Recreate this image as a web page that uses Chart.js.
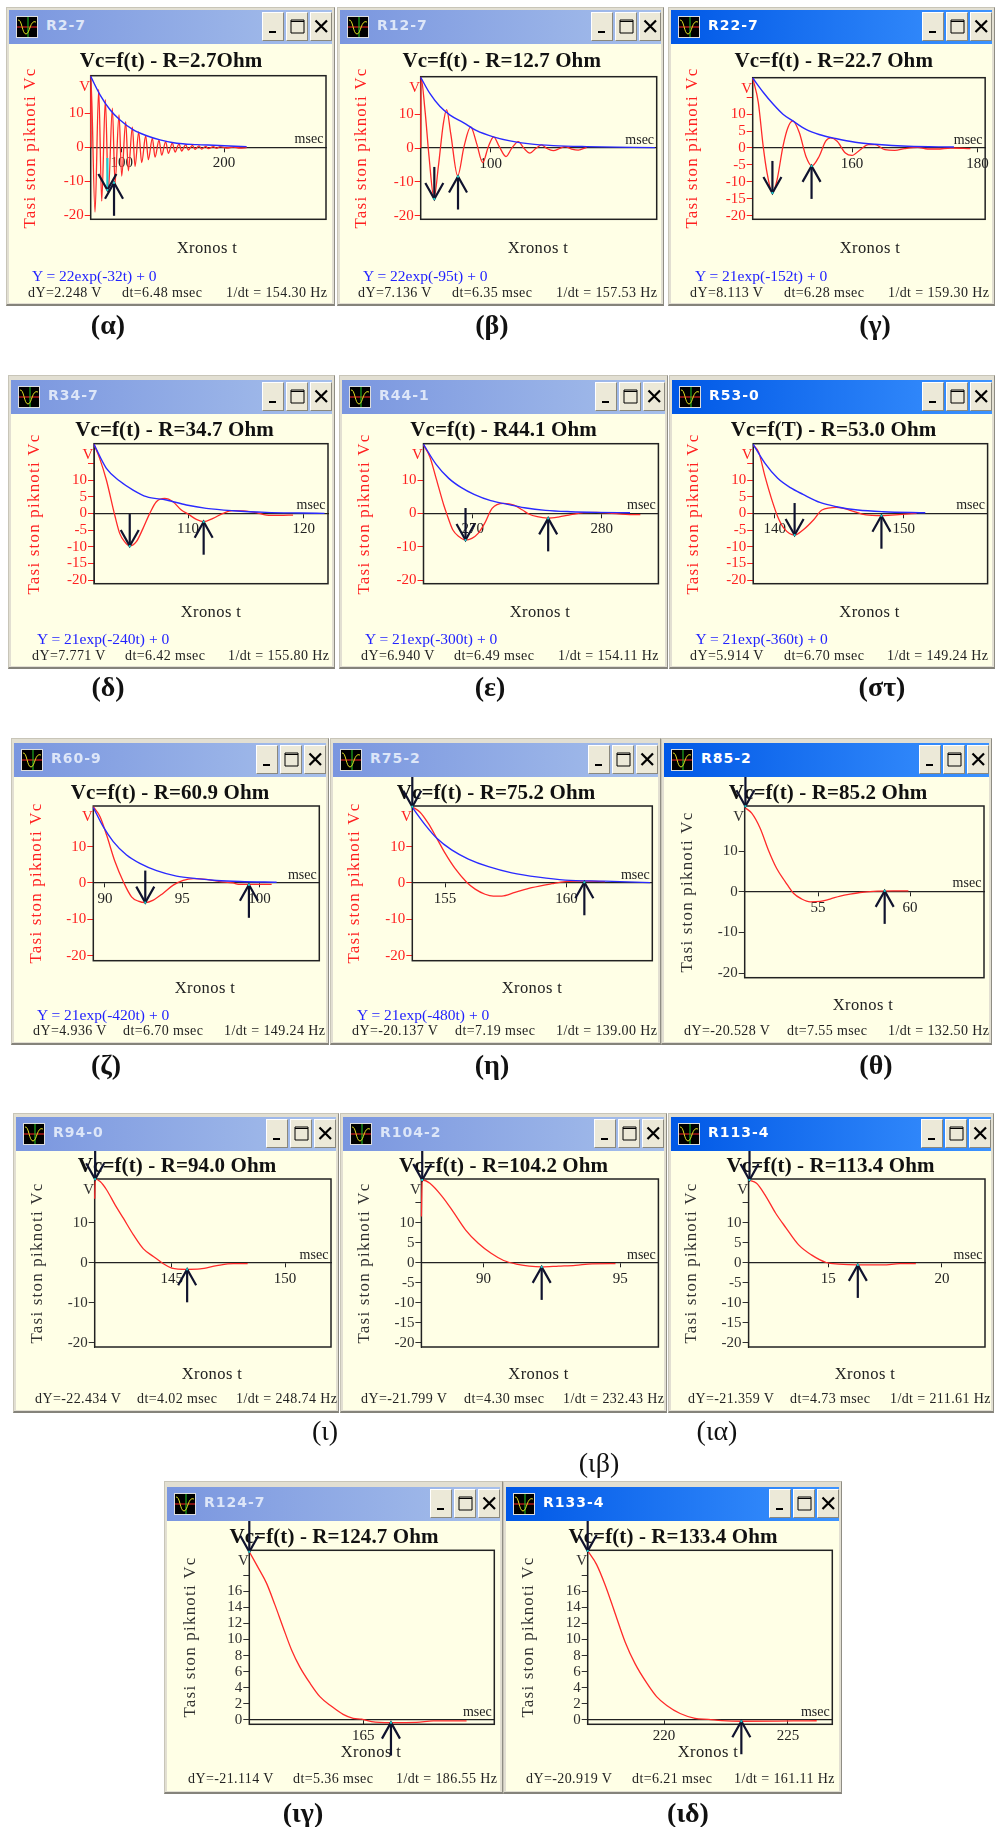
<!DOCTYPE html>
<html>
<head>
<meta charset="utf-8">
<title>Vc=f(t)</title>
<script src="https://cdn.jsdelivr.net/npm/chart.js@4"></script>
<style>
  html, body { margin: 0; padding: 0; background: #fff; }
  #page { position: relative; width: 996px; height: 1827px; overflow: hidden; font-family: "Liberation Serif", serif; filter: blur(0.35px); }
  .frame { position: absolute; box-sizing: border-box; background: #e2dfd2; border: 1px solid #c8c5b8; border-right-color: #8f8d84; border-bottom: 2px solid #85837b; }
  .client { position: absolute; background: #ffffe6; }
  .bar { position: absolute; height: 34px; }
  .bar.idle { background: linear-gradient(90deg, #7a96df, #a6bfeb); color: #dde6f8; }
  .bar.active { background: linear-gradient(90deg, #0058e6, #3c93ff); color: #fff; }
  .bar .name { position: absolute; left: 37px; top: 7px; font: bold 14px "DejaVu Sans", sans-serif; letter-spacing: 1px; }
  .bar svg.icon { position: absolute; left: 7px; top: 6px; }
  .btn { position: absolute; top: 2px; width: 22px; height: 29px; box-sizing: border-box; background: #ece9d8; border: 1px solid; border-color: #fff #8a887d #8a887d #fff; }
  .btn svg { position: absolute; left: 1px; top: 4px; }
  canvas { position: absolute; }
  .txt { position: absolute; white-space: nowrap; line-height: 1; }
  .fit { color: #2222ff; font-size: 15.5px; }
  .status { color: #222; font-size: 14px; letter-spacing: .4px; }
  .caption { color: #111; font-size: 28px; transform: translate(-50%, -50%); }
</style>
</head>
<body>
<div id="page"></div>
<script>
// red trace (time in msec, voltage in V)
const tR2_7 = [69.7,69.75,73.94,77.52,80.46,84.04,86.97,90.88,93.49,97.39,100,103.91,106.51,110.42,113.03,116.61,119.54,123.45,126.06,129.97,132.57,136.48,139.09,143,145.6,149.51,152.12,156.03,158.63,162.54,165.15,169.06,171.66,175.57,178.18,182.08,184.69,189.58,192.83,196.09,202.6,209.12,215.64,222.15];
const vR2_7 = [0,21,-19,17,-15.8,14,-13,11.5,-10.6,9.5,-8.4,7.5,-6.9,5.9,-5.6,4.5,-4.5,3.4,-3.6,2.7,-2.9,2.1,-2.3,1.7,-1.8,1.3,-1.4,1,-1.1,0.8,-0.8,0.6,-0.6,0.4,-0.5,0.3,-0.4,0.2,-0.3,0.2,-0.2,0.1,-0.2,-0.1];
const tR12_7 = [81.25,81.3,82.41,83.48,84.82,85.98,87.32,88.21,89.29,91.16,92.86,94.64,96.25,97.86,99.38,100.8,102.32,104.11,105.63,107.41,108.93,110.54,112.14,113.66,115,116.79,118.57,119.91,121.7,123.48,125.71];
const vR12_7 = [0,20.9,11,-2.5,-14.8,-5.5,7.2,11.3,4.3,-8.2,0.4,6.2,1.3,-4.3,0.4,3.3,0.4,-2.5,-0.1,1.9,-0.1,-1.5,-0.1,0.9,-0.1,-0.8,-0.1,0.4,-0.3,-0.6,0.2];
const tR22_7 = [144.19,145.08,145.86,146.49,147.33,148.06,149.01,149.79,150.58,151.62,152.67,153.61,154.76,155.81,156.6,157.64,158.95,160,161.31,162.62,163.66,165.24,166.81,168.38,170.47,172.04,173.61,175.71,178.85];
const vR22_7 = [20.7,13.5,0.5,-7.5,-13.3,-9.5,0.5,6,8,4.5,-2.5,-5.3,-2.5,2,3,2,-1.5,-2.2,-0.5,1,1,-0.5,-0.7,-0.2,0.2,-0.3,-0.3,0,-0.2];
const tR34_7 = [101.87,102.36,102.94,103.66,104.09,104.52,104.96,105.53,106.11,106.69,107.26,107.98,108.7,109.42,110,110.72,111.35,112.16,113.03,113.89,115.04,115.91,116.77,117.93,119.08];
const vR34_7 = [20.7,16.5,10,-0.5,-6,-8.5,-9.8,-8.5,-4.5,0,3.5,4.5,3.5,1,-0.2,-1.8,-2.5,-1.5,0,0.8,0.7,0.2,-0.5,-0.6,-0.5];
const tR44_1 = [266.18,266.67,267.16,267.75,267.97,268.46,268.95,269.44,269.93,270.42,270.92,271.5,272.39,273.2,273.86,274.35,275,275.82,276.63,277.61,278.6,279.58,280.56,281.86,283];
const vR44_1 = [20.5,17,10.5,2.5,0,-5,-7,-8,-7.5,-6,-3,1.5,3,2.5,1,-0.2,-1,-1.4,-1.1,-0.4,0.2,0.3,0.1,-0.3,-0.4];
const tR53_0 = [138.33,138.76,139.25,139.74,140.23,140.72,141.54,142.19,143,143.66,144.8,145.78,146.76,147.58,148.24,149.05,149.87,151];
const vR53_0 = [20.5,18.3,11,4.5,-1,-4.5,-6.5,-5,-2,1,1.8,1,-0.2,-0.6,-0.7,-0.5,-0.3,0];
const tR60_9 = [89.25,89.68,90.11,90.65,91.23,91.72,92.16,92.61,93.13,93.77,94.42,95.06,95.71,96.57,97.44,98.3,98.62,99.59,100.78];
const vR60_9 = [21,18.3,13.2,5.9,0,-3.8,-5,-5.4,-4.7,-2.8,-0.6,0.7,1.2,1,0.4,0,-0.4,-0.4,-0.4];
const tR75_2 = [153.65,153.97,154.31,154.66,155,155.41,155.89,156.24,156.65,156.99,157.34,157.88,158.57,159.4,159.95,160.63,161.59];
const vR75_2 = [21,19.5,16.4,12.3,8.2,4,0.2,-1.7,-3.1,-3.6,-3.6,-2.6,-1.3,-0.2,0.4,0.5,0.4];
const tR85_2 = [51.01,51.39,51.85,52.3,52.75,53.21,53.66,54.11,54.57,55.11,55.65,56.2,56.74,57.28,58.01,59.09,59.91];
const vR85_2 = [20.7,19.3,15.6,10.2,5.7,2.5,-0.4,-1.8,-2.5,-2.4,-1.8,-1.1,-0.6,-0.2,0.1,0.2,0.2];
const tR94_0 = [141.6,141.63,141.84,142.13,142.5,142.87,143.31,143.75,144.19,144.63,145,145.66,146.25,146.99,147.72,148.35];
const vR94_0 = [16,20.9,20.3,18.2,14.5,11.1,7,3.5,1.6,-0.2,-1.3,-1.6,-1.5,-0.7,-0.2,-0.2];
const tR104_2 = [87.73,87.76,88.04,88.5,88.89,89.35,89.81,90.28,90.74,91.2,91.67,92.13,92.75,93.36,93.98,94.83];
const vR104_2 = [11.6,20.7,19.9,16.5,12.8,8.2,4.9,2.4,0.6,-0.3,-0.8,-1,-0.8,-0.6,-0.25,-0.2];
const tR113_4 = [11.5,11.85,12.22,12.69,13.15,13.7,14.26,14.91,15.46,16.3,17.41,18.15,18.85];
const vR113_4 = [20.7,19.9,17,12.4,8.7,4.5,2,0.1,-0.3,-0.5,-0.5,-0.2,-0.2];
const tR124_7 = [160.69,161.03,161.34,161.66,161.97,162.29,162.6,162.98,163.36,163.8,164.24,164.62,164.94,165.32,166.01,167.02,167.65,168.91];
const vR124_7 = [20.9,18.9,17,14.3,11.5,8.7,6.6,4.6,2.9,1.7,0.7,0.2,0.1,-0.2,-0.33,-0.3,-0.12,-0.12];
const tR133_4 = [216.92,217.28,217.62,218.02,218.43,218.83,219.3,219.7,220.11,220.65,221.25,221.79,222.33,223.13,225.22,226.16];
const vR133_4 = [21,19.3,16.8,13.3,9.7,7,4.6,2.9,1.8,0.8,0.2,0.08,-0.08,-0.16,-0.12,-0.1];

// blue envelope, only the first eight windows have one
const envT2_7 = [69.7,78.83,88.6,98.37,111.4,124.43,137.46,153.75,173.29,189.58,222.15];
const envV2_7 = [20.8,15.4,11,8,5.1,3.4,2.2,1.2,0.8,0.6,0.2];
const envT12_7 = [81.25,83.75,86.43,89.11,92.68,96.25,100.71,105.18,110.54,116.79,125.71,144];
const envV12_7 = [20.8,16,12.2,9.7,7.5,5.1,3.3,2.1,1.2,0.7,0.4,0.1];
const envT22_7 = [144.19,145.86,147.43,149.01,150.58,152.67,154.76,157.38,160.52,163.66,168.9,176.23];
const envV22_7 = [20.7,16.5,13,10,8,5.5,4,2.8,1.7,1.1,0.5,0.3];
const envT34_7 = [101.87,102.94,104.09,105.25,106.4,108.13,109.86,111.58,113.89,116.77,119.65,121.8];
const envV34_7 = [20.7,13.5,9.7,7,5,4,2.5,1.5,0.8,0.3,0.1,0];
const envT44_1 = [266.18,267.16,268.14,269.12,270.1,271.4,272.7,274,275.65,277.6,279.6,282.2];
const envV44_1 = [20.7,14.7,10.5,7.7,5.7,3.8,2.7,1.7,0.9,0.5,0.3,0.2];
const envT53_0 = [138.33,139.25,140.23,141.21,142.19,143.5,144.8,146.44,148.4,151.67];
const envV53_0 = [20.7,15,10.5,7.7,5.7,3.3,2,1,0.5,0.2];
const envT60_9 = [89.25,89.89,90.54,91.4,92.26,93.34,94.63,95.93,97.22,98.73,101.1];
const envV60_9 = [20.8,15.5,11.4,7.7,5.4,3.4,1.9,1.2,0.7,0.4,0.2];
const envT75_2 = [153.65,154.18,154.66,155.27,155.96,156.79,157.75,158.85,159.95,161.59,163.45];
const envV75_2 = [20.8,16,12.3,9.1,6.6,4.5,2.8,1.6,0.8,0.5,0.1];

const traceT = [tR2_7,tR12_7,tR22_7,tR34_7,tR44_1,tR53_0,tR60_9,tR75_2,tR85_2,tR94_0,tR104_2,tR113_4,tR124_7,tR133_4];
const traceV = [vR2_7,vR12_7,vR22_7,vR34_7,vR44_1,vR53_0,vR60_9,vR75_2,vR85_2,vR94_0,vR104_2,vR113_4,vR124_7,vR133_4];
const envelopeT = [envT2_7,envT12_7,envT22_7,envT34_7,envT44_1,envT53_0,envT60_9,envT75_2];
const envelopeV = [envV2_7,envV12_7,envV22_7,envV34_7,envV44_1,envV53_0,envV60_9,envV75_2];

// axes
const xMins = [69.7,81.25,144.19,101.87,266.18,138.33,89.25,153.65,51.01,141.6,87.73,11.5,160.69,216.92];
const xMaxs = [299.7,144.5,181.2,122.1,284.4,156.5,103.86,163.54,64.02,152.03,96.4,21.89,169.96,226.79];
const yMins = [-21.1,-21,-21.1,-21.1,-21.1,-21.1,-21.4,-21.4,-21.15,-21,-21,-21,-0.54,-0.54];
const yMaxs = [21,21,20.8,20.9,20.9,20.9,21.2,21.2,21.07,20.95,20.95,20.95,21.08,21.08];
const xTicks = [[100,200],[100],[160,180],[110,120],[270,280],[140,150],[90,95,100],[155,160],[55,60],[145,150],[90,95],[15,20],[165],[220,225]];
const yTens = [10,0,-10,-20];
const yFives = [15,10,5,0,-5,-10,-15,-20];
const yTwos = [18,16,14,12,10,8,6,4,2,0];
const yTicks = [yTens,yTens,yFives,yFives,yTens,yFives,yTens,yTens,yTens,yTens,yFives,yFives,yTwos,yTwos];
const yUnlabelled = [15,18];

// cursor arrows
const downT = [86,84.9,147.33,104.96,269.44,141.54,92.61,153.65,51.05,141.62,87.76,11.54,160.69,216.92];
const downV = [-12.5,-15,-13.3,-9.8,-8,-6.5,-5.4,21,21,20.9,20.7,20.7,20.9,21];
const upT = [92.5,91.25,153.56,111.35,275.85,148.27,99.31,160.74,58.62,145.68,92.13,16.3,166.05,223.12];
const upV = [-10.4,-8.4,-5.3,-2.5,-1.5,-0.7,-0.5,0.2,0.2,-1.6,-1,-0.5,-0.33,-0.16];

// texts
const windowNames = ['R2-7','R12-7','R22-7','R34-7','R44-1','R53-0','R60-9','R75-2','R85-2','R94-0','R104-2','R113-4','R124-7','R133-4'];
const chartTitles = ['Vc=f(t) - R=2.7Ohm','Vc=f(t) - R=12.7 Ohm','Vc=f(t) - R=22.7 Ohm','Vc=f(t) - R=34.7 Ohm','Vc=f(t) - R44.1 Ohm','Vc=f(T) - R=53.0 Ohm','Vc=f(t) - R=60.9 Ohm','Vc=f(t) - R=75.2 Ohm','Vc=f(t) - R=85.2 Ohm','Vc=f(t) - R=94.0 Ohm','Vc=f(t) - R=104.2 Ohm','Vc=f(t) - R=113.4 Ohm','Vc=f(t) - R=124.7 Ohm','Vc=f(t) - R=133.4 Ohm'];
const fitLabels = ['Y = 22exp(-32t) + 0','Y = 22exp(-95t) + 0','Y = 21exp(-152t) + 0','Y = 21exp(-240t) + 0','Y = 21exp(-300t) + 0','Y = 21exp(-360t) + 0','Y = 21exp(-420t) + 0','Y = 21exp(-480t) + 0'];
const dYLabels = ['2.248','7.136','8.113','7.771','6.940','5.914','4.936','-20.137','-20.528','-22.434','-21.799','-21.359','-21.114','-20.919'];
const dtLabels = ['6.48','6.35','6.28','6.42','6.49','6.70','6.70','7.19','7.55','4.02','4.30','4.73','5.36','6.21'];
const rateLabels = ['154.30','157.53','159.30','155.80','154.11','149.24','149.24','139.00','132.50','248.74','232.43','211.61','186.55','161.11'];
const captions = ['(α)','(β)','(γ)','(δ)','(ε)','(στ)','(ζ)','(η)','(θ)','(ι)','(ιβ)','(ια)','(ιγ)','(ιδ)'];

// page layout in pixels, one row of windows per line
const rowOf = [0,0,0,1,1,1,2,2,2,3,3,3,4,4];
const rowFrameTop = [7,375,738,1113,1481];
const rowBarTop = [10,380,743,1117,1487];
const rowFrameBottom = [306,669,1045,1413,1794];
const rowFitY = [275,638,1014];
const rowStatusY = [293,656,1031,1399,1779];
const frameLeft = [6,337,668,8,339,669,11,330,661,13,340,668,164,503];
const frameRight = [335,664,995,335,668,995,329,661,992,339,667,994,503,842];
const plotLeft = [90.7,420.7,752.7,94,423.5,753.2,93.3,412.3,744.7,94.7,421.4,748.6,249.3,587.7];
const plotRight = [326,656.7,988,328,658.4,987.6,319.3,652.3,984,331,658.4,985,494.3,832.3];
const plotTop = [75.7,76.7,77.7,443.7,443.7,443.7,806,806,806,1179,1179,1179,1550.3,1550.3];
const plotBottom = [219.3,219.3,219.3,583.7,583.7,583.7,960.7,960.7,977.7,1347,1347,1347,1724.3,1724.3];
const titleX = [171,501.7,833.7,174.5,503.6,833.5,170,496,828,177,503.6,830.6,334,673];
const titleY = [62,62,62,430.7,430.7,430.7,794,794,794,1167,1167,1167,1538,1538];
const xNameX = [207,538,870,211,540,869.6,205,532,863,212,538.6,865,371,708];
const xNameY = [249,249,249,613,613,613,989,989,1006,1375,1375,1375,1753,1753];
const yNameX = [31,362,693,35,364.5,694,37,355,688,38,365,692,191,529];
const yNameY = [148,148,148,514,514,514,883,883,892,1263,1263,1263,1637,1637];
const fitX = [32,363,695,37,365,695.5,37,357];
const dYX = [28,358,690,32,361,690,33,352,684,35,361,688,188,526];
const dtX = [122,452,784,125,454,784,123,455,787,137,464,790,293,632];
const rateX = [226,556,888,228,558,887,224,556,888,236,563,890,396,734];
const captionX = [108,492,875,108,490,882,106,492,876,325,599,717,303,688];
const captionY = [325,325,325,687,687,687,1065,1065,1065,1431,1463,1431,1813,1813];
const captionBold = [1,1,1,1,1,1,1,1,1,0,0,0,1,1];
const activeWindow = [0,0,1,0,0,1,0,0,1,0,0,1,0,1];
const redLabels = [1,1,1,1,1,1,1,1,0,0,0,0,0,0];
const cyanDownTail = [1,0,0,0,0,0,0,0,0,0,0,0,0,0];

const page = document.getElementById('page');

function addDiv(cls, left, top, width, height, parent) {
    const el = document.createElement('div');
    el.className = cls;
    el.style.left = left + 'px';
    el.style.top = top + 'px';
    if (width != null) el.style.width = width + 'px';
    if (height != null) el.style.height = height + 'px';
    (parent || page).appendChild(el);
    return el;
}

function addText(cls, left, top, text) {
    const el = addDiv('txt ' + cls, left, top);
    el.textContent = text;
    return el;
}

const iconSvg = `<svg class="icon" width="22" height="22"><rect x=".5" y=".5" width="21" height="21" fill="#000" stroke="#ddd"/><path d="M1 11H21" stroke="#f22"/><path d="M12 1V21" stroke="#2c2"/><path d="M2 4C6 3 6 18 10 18S14 3 20 6" stroke="#dd2" fill="none"/></svg>`;
const minSvg = `<svg width="18" height="18"><path d="M5 15H12" stroke="#000" stroke-width="2"/></svg>`;
const maxSvg = `<svg width="18" height="18"><path d="M3 3H16V16H3Z M3 4.5H16" stroke="#000" fill="none"/></svg>`;
const closeSvg = `<svg width="18" height="18"><path d="M3.5 3.5L15 15M15 3.5L3.5 15" stroke="#000" stroke-width="2.2"/></svg>`;

function addWindowChrome(i) {
    const row = rowOf[i];
    const l = frameLeft[i], r = frameRight[i];
    addDiv('frame', l, rowFrameTop[row], r - l, rowFrameBottom[row] - rowFrameTop[row]);
    const barW = r - l - 6;
    const barTop = rowBarTop[row];
    addDiv('client', l + 3, barTop, barW, rowFrameBottom[row] - 3 - barTop);
    const bar = addDiv('bar ' + (activeWindow[i] ? 'active' : 'idle'), l + 3, barTop, barW);
    bar.innerHTML = iconSvg + `<span class="name">${windowNames[i]}</span>`;
    [minSvg, maxSvg, closeSvg].forEach((svg, k) => {
        const btn = addDiv('btn', barW - 24 * (3 - k) + 2, 2, null, null, bar);
        btn.innerHTML = svg;
    });
}

function drawText(ctx, text, x, y, font, color, rotate, spacing) {
    ctx.save();
    ctx.translate(x, y);
    if (rotate) ctx.rotate(-Math.PI / 2);
    ctx.font = font;
    ctx.fillStyle = color;
    ctx.textAlign = 'center';
    ctx.textBaseline = 'middle';
    ctx.letterSpacing = (spacing || 0) + 'px';
    ctx.fillText(text, 0, 0);
    ctx.restore();
}

function drawArrow(ctx, x, y, dir, len, tailColor) {
    ctx.save();
    ctx.lineWidth = 2.2;
    ctx.strokeStyle = tailColor || '#10132e';
    ctx.beginPath();
    ctx.moveTo(x, y);
    ctx.lineTo(x, y + dir * len);
    ctx.stroke();
    ctx.strokeStyle = '#10132e';
    ctx.beginPath();
    ctx.moveTo(x - 9, y + dir * 16);
    ctx.lineTo(x, y);
    ctx.lineTo(x + 9, y + dir * 16);
    ctx.stroke();
    ctx.fillStyle = '#20d0d0';
    ctx.fillRect(x - 1, y - 1, 2, 2);
    ctx.restore();
}

function makeChart(i) {
    const row = rowOf[i];
    const canvasLeft = frameLeft[i] + 3;
    const canvasTop = rowBarTop[row] + 34;
    const canvasW = frameRight[i] - frameLeft[i] - 6;
    const canvasH = rowFrameBottom[row] - 3 - canvasTop;
    const canvas = document.createElement('canvas');
    canvas.width = canvasW;
    canvas.height = canvasH;
    canvas.style.left = canvasLeft + 'px';
    canvas.style.top = canvasTop + 'px';
    page.appendChild(canvas);

    const labelColor = redLabels[i] ? '#ff2020' : '#303030';
    const datasets = [];
    if (envelopeT[i]) {
        datasets.push({
            data: envelopeT[i].map((t, k) => ({ x: t, y: envelopeV[i][k] })),
            borderColor: '#2a2aff', borderWidth: 1.4, pointRadius: 0, clip: 2,
            cubicInterpolationMode: 'monotone'
        });
    }
    datasets.push({
        data: traceT[i].map((t, k) => ({ x: t, y: traceV[i][k] })),
        borderColor: '#ff2a2a', borderWidth: 1.3, pointRadius: 0, clip: 2,
        cubicInterpolationMode: 'monotone'
    });

    const windowText = {
        id: 'windowText',
        beforeDatasetsDraw(chart) {
            const ctx = chart.ctx;
            const area = chart.chartArea;
            drawText(ctx, chartTitles[i], titleX[i] - canvasLeft, titleY[i] - canvasTop, 'bold 21px "Liberation Serif"', '#111', false, 0.1);
            drawText(ctx, 'Xronos t', xNameX[i] - canvasLeft, xNameY[i] - canvasTop, '16.5px "Liberation Serif"', '#222', false, 0.4);
            drawText(ctx, 'Tasi ston piknoti Vc', yNameX[i] - canvasLeft, yNameY[i] - canvasTop, '17px "Liberation Serif"', labelColor, true, 1.2);
            // plot frame
            ctx.save();
            ctx.strokeStyle = '#222';
            ctx.lineWidth = 1.5;
            ctx.strokeRect(area.left, area.top, area.width, area.height);
            ctx.restore();
            const zero = chart.scales.y.getPixelForValue(0);
            drawText(ctx, 'msec', area.right - 17, zero - 8, '14px "Liberation Serif"', '#222', false, 0);
            drawText(ctx, 'V', area.left - 6, area.top + 11, '15px "Liberation Serif"', labelColor, false, 0);
        },
        afterDatasetsDraw(chart) {
            const ctx = chart.ctx;
            const sx = chart.scales.x, sy = chart.scales.y;
            drawArrow(ctx, sx.getPixelForValue(downT[i]), sy.getPixelForValue(downV[i]), -1, 32, cyanDownTail[i] ? '#20c8d0' : null);
            drawArrow(ctx, sx.getPixelForValue(upT[i]), sy.getPixelForValue(upV[i]), 1, 33);
        }
    };

    new Chart(canvas, {
        type: 'line',
        data: { datasets },
        plugins: [windowText],
        options: {
            responsive: false,
            animation: false,
            events: [],
            layout: {
                padding: {
                    left: 0,
                    top: plotTop[i] - canvasTop,
                    right: canvasLeft + canvasW - plotRight[i],
                    bottom: canvasTop + canvasH - plotBottom[i]
                }
            },
            plugins: { legend: { display: false }, tooltip: { enabled: false }, title: { display: false } },
            scales: {
                x: {
                    type: 'linear',
                    position: { y: 0 },
                    min: xMins[i],
                    max: xMaxs[i],
                    afterBuildTicks(scale) { scale.ticks = xTicks[i].map(v => ({ value: v })); },
                    grid: { drawOnChartArea: false, tickLength: 4, color: '#222', tickWidth: 1 },
                    border: { color: '#222', width: 1.3 },
                    ticks: {
                        autoSkip: false, maxRotation: 0, padding: 3, color: '#222',
                        font: { family: 'Liberation Serif', size: 15 },
                        callback: v => String(v)
                    }
                },
                y: {
                    type: 'linear',
                    min: yMins[i],
                    max: yMaxs[i],
                    afterFit(scale) { scale.width = plotLeft[i] - canvasLeft; },
                    afterBuildTicks(scale) { scale.ticks = yTicks[i].map(v => ({ value: v })); },
                    grid: { drawOnChartArea: false, tickLength: 6, color: labelColor, tickWidth: 1 },
                    border: { color: '#222', width: 1 },
                    ticks: {
                        autoSkip: false, maxRotation: 0, padding: 1, color: labelColor,
                        font: { family: 'Liberation Serif', size: 15 },
                        callback: v => yUnlabelled.includes(v) ? '' : String(v)
                    }
                }
            }
        }
    });
}

function addWindowTexts(i) {
    const row = rowOf[i];
    if (fitLabels[i]) addText('fit', fitX[i], rowFitY[row] - 7, fitLabels[i]);
    const y = rowStatusY[row] - 7;
    addText('status', dYX[i], y, `dY=${dYLabels[i]} V`);
    addText('status', dtX[i], y, `dt=${dtLabels[i]} msec`);
    addText('status', rateX[i], y, `1/dt = ${rateLabels[i]} Hz`);
    const cap = addText('caption', captionX[i], captionY[i], captions[i]);
    cap.style.fontWeight = captionBold[i] ? 'bold' : 'normal';
}

windowNames.forEach((name, i) => {
    addWindowChrome(i);
    makeChart(i);
    addWindowTexts(i);
});
</script>
</body>
</html>
